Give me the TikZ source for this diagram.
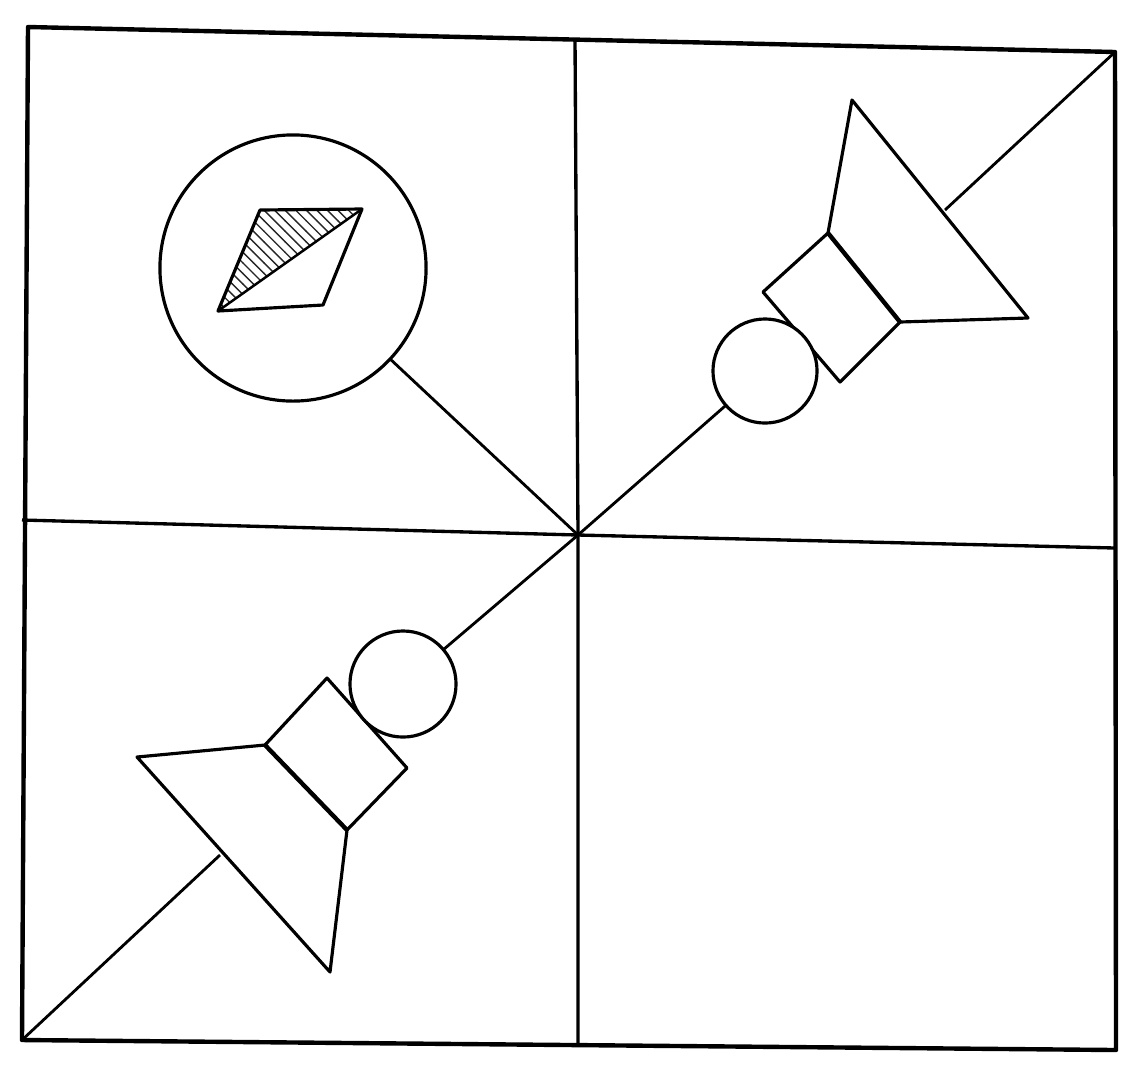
\documentclass[tikz,border=0pt]{standalone}
\usepackage{tikz}
\usetikzlibrary{patterns,calc}

\begin{document}
\begin{tikzpicture}[
  x=0.01cm, y=-0.01cm,
  line join=round,
  frame/.style={line width=1.25pt},
  divider/.style={line width=0.95pt},
  wire/.style={line width=0.8pt},
  part/.style={draw, line width=0.9pt, fill=white},
  lens/.style={circle, draw, line width=0.9pt, fill=white, inner sep=0pt, outer sep=0pt},
  hatched/.style={pattern=north west lines, pattern color=black!85},
]
\useasboundingbox (0,0) rectangle (1140,1075);

% ---- frame -------------------------------------------------------------------
\coordinate (tl) at (28,27);
\coordinate (tr) at (1115,52);
\coordinate (br) at (1116,1050);
\coordinate (bl) at (22,1040);
\coordinate (mid) at (578,535);
\coordinate (ltop) at (575,39);
\coordinate (lbot) at (578,1045);
\coordinate (lleft) at (22,520);
\coordinate (lright) at (1115,548);

\draw[divider] (ltop) -- (mid) -- (lbot);
\draw[divider] (lleft) -- (mid) -- (lright);

% ---- upper left: magnifier ---------------------------------------------------
\node[lens, minimum size=2.66cm] (glass) at (293,268) {};
\draw[wire] (mid) -- (glass);
\coordinate (pa) at (260,210);
\coordinate (pb) at (362,209);
\coordinate (pc) at (323,305);
\coordinate (pd) at (218,311);
\fill[hatched] (pa) -- (pb) -- (pd) -- cycle;
\draw[part, fill=none] (pa) -- (pb) -- (pc) -- (pd) -- cycle;
\draw[line width=0.7pt] (pd) -- (pb);

% ---- upper right: probe ------------------------------------------------------
\coordinate (hornR) at (945,210);
\draw[wire] (hornR) -- (tr);
\draw[part] (763,292) -- (828,233) -- (900,322) -- (840,382) -- cycle;
\draw[part] (828,233) -- (852,100) -- (1028,318) -- (900,322);
\draw[line width=1.25pt] (828,233) -- (900,322);
\node[lens, minimum size=1.04cm] (ballR) at (765,371) {};
\draw[wire] (mid) -- (ballR);

% ---- lower left: probe -------------------------------------------------------
\coordinate (hornL) at (220,855);
\draw[wire] (hornL) -- (bl);
\draw[part] (265,745) -- (327,678) -- (407,768) -- (347,830) -- cycle;
\draw[part] (265,745) -- (137,757) -- (330,972) -- (347,830);
\draw[line width=1.25pt] (265,745) -- (347,830);
\node[lens, minimum size=1.06cm] (ballL) at (403,684) {};
\draw[wire] (mid) -- (ballL);

\draw[frame] (tl) -- (tr) -- (br) -- (bl) -- cycle;
\end{tikzpicture}
\end{document}
